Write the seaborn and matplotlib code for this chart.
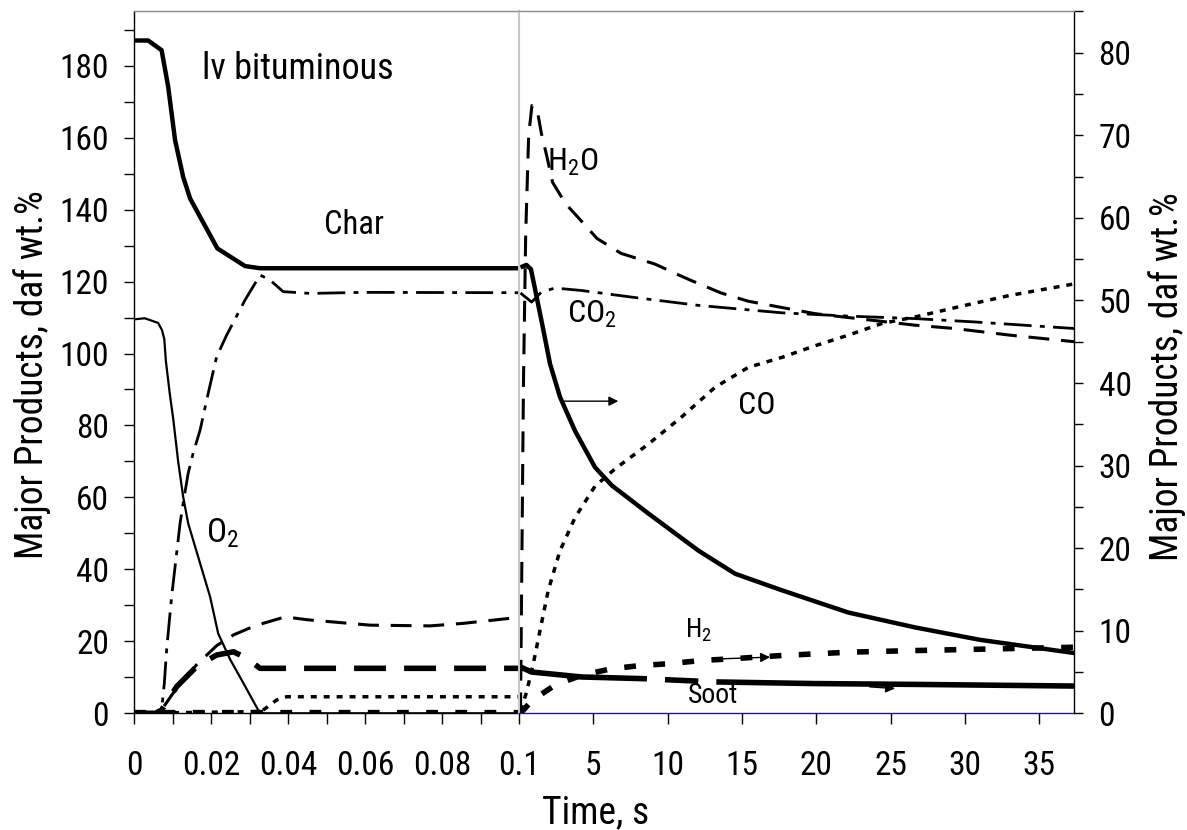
import numpy as np
import pandas as pd
import seaborn as sns
import matplotlib
matplotlib.use("Agg")
import matplotlib.pyplot as plt
from matplotlib import font_manager as fm
from matplotlib.ticker import MultipleLocator

# ---------------- data: early period (0 - 0.1 s), left axis ----------------
t_char_l = [0, 0.0036, 0.0071, 0.0088, 0.0106, 0.0127, 0.0145, 0.0171, 0.0216, 0.0288, 0.0327, 0.1]
v_char_l = [187, 187, 184.3, 174.2, 159.3, 149.1, 143.1, 138.0, 129.2, 124.3, 123.7, 123.7]

t_o2_l = [0, 0.0027, 0.0062, 0.0072, 0.0078, 0.0082, 0.0092, 0.0101, 0.0114, 0.0127, 0.014, 0.0171,
          0.0197, 0.0218, 0.0249, 0.0284, 0.0322, 0.0335, 0.1]
v_o2_l = [109.5, 109.8, 108.5, 106.5, 104.0, 98.0, 89.0, 82.0, 70.0, 60.2, 52.8, 41.7,
          32.4, 22.2, 15.0, 8.3, 0.9, 0, 0]

t_co2_l = [0, 0.006, 0.0071, 0.0078, 0.0084, 0.0097, 0.0119, 0.0127, 0.014, 0.0153, 0.0171, 0.0192,
           0.0214, 0.024, 0.0288, 0.0327, 0.0353, 0.0387, 0.0457, 0.0595, 0.1]
v_co2_l = [0, 0, 0.9, 8.3, 17.6, 32.4, 52.8, 58.4, 66.7, 72.3, 78.7, 88.9,
           99.1, 105.1, 114.9, 121.8, 120.4, 117.2, 116.7, 117.0, 116.9]

t_h2o_l = [0, 0.0055, 0.0071, 0.011, 0.0162, 0.0214, 0.0258, 0.030, 0.0335, 0.0392, 0.045, 0.0613,
           0.0769, 0.0855, 0.0977]
v_h2o_l = [0, 0, 1.0, 7.0, 13.5, 18.8, 21.8, 23.7, 25.0, 26.8, 26.0, 24.5, 24.3, 25.0, 26.4]

t_soot_l = [0, 0.0055, 0.0071, 0.011, 0.0162, 0.0214, 0.0258, 0.0292, 0.0327, 0.037, 0.1]
v_soot_l = [0, 0, 0.9, 7.4, 13.0, 16.2, 17.1, 15.3, 12.5, 12.5, 12.5]

t_co_l = [0, 0.033, 0.037, 0.0396, 0.1]
v_co_l = [0, 0.5, 3.7, 4.6, 4.6]

t_h2_l = [0, 0.1]
v_h2_l = [0.5, 0.5]

# ---------------- data: later period (0.1 - 37 s), right axis ----------------
t_char_r = [0.1, 0.5, 0.8, 1.19, 1.64, 2.09, 2.76, 3.77, 5.11, 6.24, 8.7, 12.07, 14.54, 17.68,
            22.16, 26.65, 31.0, 37.35]
v_char_r = [54.0, 54.3, 53.8, 50.4, 46.4, 42.3, 38.3, 34.2, 29.8, 27.6, 24.2, 19.7, 16.9, 14.9,
            12.2, 10.4, 8.9, 7.3]

t_co2_r = [0.1, 0.85, 1.5, 2.42, 4.22, 7.58, 12.07, 17.68, 22.16, 26.65, 30.6, 37.35]
v_co2_r = [50.9, 49.8, 51.0, 51.5, 51.2, 50.4, 49.4, 48.5, 48.1, 47.8, 47.4, 46.6]

t_h2o_r = [0.1, 0.2, 0.3, 0.45, 0.65, 0.87, 1.1, 1.27, 1.51, 1.88, 2.26, 3.14, 3.75, 5.25, 6.86,
           9.15, 10.6, 11.6, 13.6, 15.43, 19.9, 21.8, 26.65, 29.3, 33.0, 37.35]
v_h2o_r = [0, 20, 40, 58, 70, 73.6, 73.3, 72.6, 70.2, 67.4, 64.3, 61.7, 60.5, 57.5, 55.7,
           54.4, 53.2, 52.4, 50.9, 49.9, 48.4, 48.0, 47.0, 46.6, 45.8, 45.0]

t_co_r = [0.1, 0.5, 0.96, 1.41, 1.97, 2.76, 3.77, 5.11, 6.46, 8.7, 10.95, 13.2, 15.43, 17.68,
          19.9, 22.16, 24.4, 26.65, 30.0, 33.0, 37.35]
v_co_r = [0.3, 2.5, 6.0, 10.0, 14.9, 19.7, 23.7, 27.5, 29.6, 32.6, 35.9, 39.5, 41.9, 43.1,
          44.5, 45.8, 47.2, 48.0, 49.4, 50.6, 52.0]

t_h2_r = [0.1, 0.85, 2.4, 4.2, 6.24, 8.26, 10.05, 12.3, 14.3, 17.7, 22.16, 26.65, 32.0, 37.35]
v_h2_r = [0, 1.5, 3.4, 4.6, 5.4, 5.8, 6.0, 6.4, 6.6, 7.0, 7.4, 7.6, 7.8, 8.0]

t_soot_r = [0.1, 0.85, 4.2, 8.26, 13.2, 19.9, 26.65, 37.35]
v_soot_r = [5.6, 5.0, 4.4, 4.2, 3.8, 3.6, 3.5, 3.3]

# ticks / labels
left_xticks = [0, 0.02, 0.04, 0.06, 0.08, 0.1]
left_xticklabels = ["0", "0.02", "0.04", "0.06", "0.08", "0.1"]
right_xticks = [5, 10, 15, 20, 25, 30, 35]
left_yticks = list(range(0, 181, 20))
right_yticks = list(range(0, 81, 10))

# ---------------- style ----------------
sns.set_theme(style="ticks")

# pick a condensed sans font if one is installed
entries = fm.fontManager.ttflist
names = {f.name for f in entries}
family = None
stretch = "normal"
for pref in ["Liberation Sans Narrow", "Arial Narrow", "Roboto Condensed", "Noto Sans Condensed",
             "Open Sans Condensed", "DejaVu Sans Condensed"]:
    if pref in names:
        family = pref
        break
if family is None:
    for pref in ["Roboto", "Noto Sans", "Open Sans", "DejaVu Sans", "Liberation Sans"]:
        if any(f.name == pref and str(f.stretch) in ("condensed", "semi-condensed", "extra-condensed")
               and f.style == "normal" for f in entries):
            family = pref
            stretch = "condensed"
            break
if family is None:
    family = "Liberation Sans"

plt.rcParams["font.family"] = [family, "Liberation Sans", "DejaVu Sans"]
plt.rcParams["font.stretch"] = stretch
plt.rcParams["mathtext.default"] = "regular"
plt.rcParams["lines.scale_dashes"] = False
plt.rcParams["lines.dash_capstyle"] = "butt"
plt.rcParams["lines.solid_capstyle"] = "butt"
for k in ("text.color", "axes.labelcolor", "xtick.color", "ytick.color", "axes.edgecolor"):
    plt.rcParams[k] = "black"

W, H = 1187, 830
fig = plt.figure(figsize=(W / 100, H / 100), dpi=100)
fig.patch.set_facecolor("white")

bottom_px, top_px = 713.3, 11.0
ax1 = fig.add_axes([134.3 / W, (H - bottom_px) / H, 384.7 / W, (bottom_px - top_px) / H])
ax2 = fig.add_axes([519.0 / W, (H - bottom_px) / H, 555.2 / W, (bottom_px - top_px) / H])
for ax in (ax1, ax2):
    ax.set_facecolor("none")
    ax.grid(False)


def draw(ax, t, v, lw, ls):
    df = pd.DataFrame({"t": t, "v": v})
    sns.lineplot(data=df, x="t", y="v", ax=ax, color="black", linewidth=lw,
                 estimator=None, sort=False, legend=False)
    ln = ax.lines[-1]
    ln.set_linestyle(ls)
    return ln


DASHDOT = (0, (20, 6, 3.5, 6))
LONGDASH = (0, (15, 8.5))
DOT = (0, (4.3, 5))
H2DASH = (0, (8.5, 12.5))
SOOT_L = (0, (23, 13))
SOOT_R = (0, (92, 13, 24, 13, 2000, 1))

# left panel
draw(ax1, t_h2_l, v_h2_l, 3.8, H2DASH)
draw(ax1, t_co_l, v_co_l, 2.5, DOT)
draw(ax1, t_soot_l, v_soot_l, 4.0, SOOT_L)
draw(ax1, t_h2o_l, v_h2o_l, 2.2, LONGDASH)
draw(ax1, t_co2_l, v_co2_l, 2.0, DASHDOT)
draw(ax1, t_o2_l, v_o2_l, 1.6, "-")
draw(ax1, t_char_l, v_char_l, 3.2, "-")
ax1.vlines(t_char_l[-1], 0, v_char_l[0], colors="black", linewidth=1.0, zorder=3)

# right panel
draw(ax2, t_soot_r, v_soot_r, 4.0, SOOT_R)
draw(ax2, t_h2_r, v_h2_r, 4.0, H2DASH)
draw(ax2, t_co_r, v_co_r, 2.5, DOT)
draw(ax2, t_h2o_r, v_h2o_r, 2.2, LONGDASH)
draw(ax2, t_co2_r, v_co2_r, 2.0, DASHDOT)
draw(ax2, t_char_r, v_char_r, 3.2, "-")

# axes limits
ax1.set_xlim(0, 0.1)
ax1.set_ylim(0, 195.2)
ax2.set_xlim(0, 37.35)
ax2.set_ylim(0, 85.05)

# spines
for s in ("left", "bottom"):
    ax1.spines[s].set_color("black")
    ax1.spines[s].set_linewidth(1.0)
ax1.spines["top"].set_color("#8c8c8c")
ax1.spines["top"].set_linewidth(1.0)
ax1.spines["right"].set_visible(False)
ax2.spines["left"].set_color("#c8c8c8")
ax2.spines["left"].set_linewidth(1.5)
ax2.spines["top"].set_color("#8c8c8c")
ax2.spines["right"].set_color("black")
ax2.spines["bottom"].set_color("#1a1a8c")
for s in ("top", "right", "bottom"):
    ax2.spines[s].set_linewidth(1.0)

# ticks
FS = 24
ax1.set_xticks(left_xticks)
ax1.set_xticklabels(left_xticklabels)
ax1.xaxis.set_minor_locator(MultipleLocator(0.01))
ax1.set_yticks(left_yticks)
ax1.yaxis.set_minor_locator(MultipleLocator(10))
ax1.tick_params(axis="both", which="both", direction="out", color="black", width=1.0,
                labelsize=FS, labelcolor="black", top=False, right=False)
ax1.tick_params(axis="y", which="both", length=7.2, pad=11)
ax1.tick_params(axis="x", which="both", length=7.7, pad=19)

ax2.set_xticks(right_xticks)
ax2.set_yticks(right_yticks)
ax2.yaxis.set_minor_locator(MultipleLocator(5))
ax2.yaxis.tick_right()
ax2.tick_params(axis="both", which="both", direction="out", color="black", width=1.0,
                labelsize=FS, labelcolor="black", top=False, left=False, labelleft=False)
ax2.tick_params(axis="y", which="both", length=6.5, pad=11, right=True, labelright=True)
ax2.tick_params(axis="x", which="both", length=7.7, pad=19)
for ax in (ax1, ax2):
    ax.set_xlabel("")
    ax.set_ylabel("")

# axis titles
LFS = 27
fig.text(32 / W, 1 - 375 / H, "Major Products, daf wt.%", rotation=90, ha="center", va="center",
         fontsize=LFS)
fig.text(1167 / W, 1 - 377 / H, "Major Products, daf wt.%", rotation=90, ha="center", va="center",
         fontsize=LFS)
fig.text(596 / W, 1 - 823 / H, "Time, s", ha="center", va="baseline", fontsize=LFS)

# annotations
ax1.text(0.04255, 179.1, "lv bituminous", ha="center", va="center", fontsize=26)
ax1.text(0.0571, 135.7, "Char", ha="center", va="center", fontsize=23.5)
ax1.text(0.0228, 50.1, r"O$_2$", ha="center", va="center", fontsize=24)
ax2.text(3.63, 66.7, r"H$_2$O", ha="center", va="center", fontsize=23)
ax2.text(4.9, 48.3, r"CO$_2$", ha="center", va="center", fontsize=23)
ax2.text(16.0, 37.3, "CO", ha="center", va="center", fontsize=23)
ax2.text(12.05, 10.0, r"H$_2$", ha="center", va="center", fontsize=19)
ax2.text(13.05, 2.1, "Soot", ha="center", va="center", fontsize=20)

# arrows (pointing toward the right-hand axis)
arrow_char = ((2.98, 37.8), (6.68, 37.8))
arrow_h2 = ((13.64, 6.6), (16.89, 6.8))
arrow_soot = ((23.6, 3.2), (25.3, 3.0))
for (x0, y0), (x1, y1) in (arrow_char, arrow_h2, arrow_soot):
    ax2.annotate("", xy=(x1, y1), xytext=(x0, y0),
                 arrowprops=dict(arrowstyle="-|>", color="black", lw=1.0,
                                 mutation_scale=14, shrinkA=0, shrinkB=0))

fig.savefig("out.png", dpi=100, facecolor="white")
